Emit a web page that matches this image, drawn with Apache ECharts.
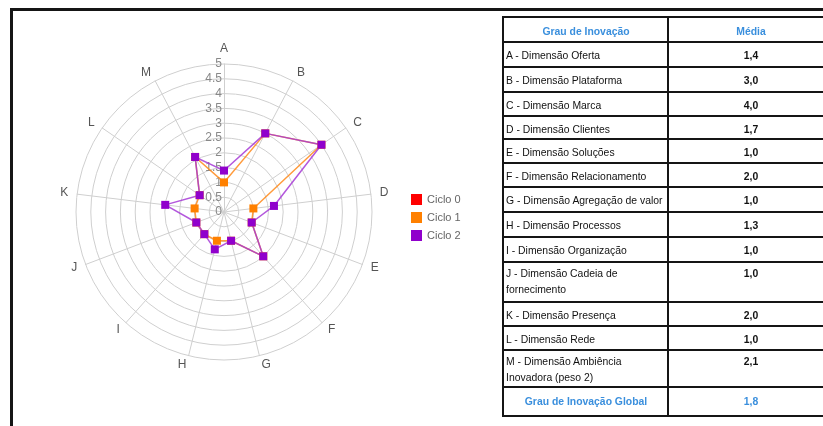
<!DOCTYPE html>
<html>
<head>
<meta charset="utf-8">
<script src="https://cdn.jsdelivr.net/npm/echarts@6/dist/echarts.min.js"></script>
<style>
  html, body { margin: 0; padding: 0; background: #fff; }
  body { width: 823px; height: 426px; overflow: hidden; position: relative; font-family: "Liberation Sans", Arial, sans-serif; }
  #chart { position: absolute; left: 0; top: 0; width: 823px; height: 426px; }
  .frame-top { position: absolute; left: 10px; top: 8px; width: 813px; height: 3px; background: #151515; }
  .frame-left { position: absolute; left: 10px; top: 8px; width: 3px; height: 418px; background: #151515; }
  #tbl { position: absolute; left: 502px; top: 16px; width: 330px; border-collapse: collapse; table-layout: fixed; font-size: 10.4px; }
  #tbl td { border: 2px solid #151515; padding: 4px 1px 0 2px; line-height: 17px; vertical-align: top; box-sizing: border-box; color: #111; white-space: nowrap; }
  #tbl tr.two td { padding-top: 3px; line-height: 16px; }
  #tbl td.v { text-align: center; font-weight: bold; }
  #tbl tr.h td { color: #3a8fdd; font-weight: bold; text-align: center; padding-top: 5px; }
  #tbl tr.g td { color: #3a8fdd; font-weight: bold; text-align: center; padding-top: 5px; }
</style>
</head>
<body>
<div id="chart"></div>
<div class="frame-top"></div>
<div class="frame-left"></div>
<table id="tbl"><colgroup><col style="width:165px"><col style="width:165px"></colgroup><tbody id="tbody"></tbody></table>
<script>
// Radar axes (clockwise from the top) and the values of each cycle
const dimensions = ['A', 'B', 'C', 'D', 'E', 'F', 'G', 'H', 'I', 'J', 'K', 'L', 'M'];
const ciclo0 = [];
const ciclo1 = [1.0, 3.0, 4.0, 1.0, 1.0, 2.0, 1.0, 1.0, 1.0, 1.0, 1.0, 1.0, 2.1];
const ciclo2 = [1.4, 3.0, 4.0, 1.7, 1.0, 2.0, 1.0, 1.3, 1.0, 1.0, 2.0, 1.0, 2.1];
const seriesNames = ['Ciclo 0', 'Ciclo 1', 'Ciclo 2'];
const scaleMax = 5;
const scaleStep = 0.5;

// Summary table
const tableHeader = ['Grau de Inovação', 'Média'];
const tableLabels = [
  ['A - Dimensão Oferta'],
  ['B - Dimensão Plataforma'],
  ['C - Dimensão Marca'],
  ['D - Dimensão Clientes'],
  ['E - Dimensão Soluções'],
  ['F - Dimensão Relacionamento'],
  ['G - Dimensão Agregação de valor'],
  ['H - Dimensão Processos'],
  ['I - Dimensão Organização'],
  ['J - Dimensão Cadeia de', 'fornecimento'],
  ['K - Dimensão Presença'],
  ['L - Dimensão Rede'],
  ['M - Dimensão Ambiência', 'Inovadora (peso 2)']
];
const tableValues = ['1,4', '3,0', '4,0', '1,7', '1,0', '2,0', '1,0', '1,3', '1,0', '1,0', '2,0', '1,0', '2,1'];
const globalLabel = 'Grau de Inovação Global';
const globalValue = '1,8';

// build the table
const tbody = document.getElementById('tbody');
function addRow(cls, lines, b, h) {
  const tr = document.createElement('tr');
  tr.className = cls || (lines.length > 1 ? 'two' : '');
  tr.style.height = h + 'px';
  const c1 = document.createElement('td');
  lines.forEach((ln, i) => {
    if (i) c1.appendChild(document.createElement('br'));
    c1.appendChild(document.createTextNode(ln));
  });
  const c2 = document.createElement('td'); c2.textContent = b; c2.className = 'v';
  tr.appendChild(c1); tr.appendChild(c2);
  tbody.appendChild(tr);
}
addRow('h', [tableHeader[0]], tableHeader[1], 25);
const rowHeights = [25, 25, 24, 23, 24, 24, 25, 25, 25, 40, 24, 24, 37];
tableLabels.forEach((t, i) => addRow('', t, tableValues[i], rowHeights[i]));
addRow('g', [globalLabel], globalValue, 29);

// ECharts radar runs counter-clockwise, so feed the axes in reverse after A
const order = [0].concat(dimensions.map((_, i) => i).slice(1).reverse());
const pick = arr => order.map(i => arr[i]);

const center = [224, 212];
const radius = 148;
const colors = ['#ff0000', '#ff8000', '#9000cc'];
const lineColors = ['#ff0000', '#ff8a1a', '#a63ad6'];

const chart = echarts.init(document.getElementById('chart'), null, { renderer: 'canvas' });
chart.setOption({
  animation: false,
  color: colors,
  legend: {
    orient: 'vertical',
    left: 406,
    top: 189,
    icon: 'rect',
    itemWidth: 11,
    itemHeight: 11,
    itemGap: 7,
    textStyle: { color: '#666', fontSize: 11, fontFamily: 'Liberation Sans' },
    data: seriesNames
  },
  radar: {
    center: center,
    radius: radius,
    shape: 'circle',
    startAngle: 90,
    splitNumber: scaleMax / scaleStep,
    nameGap: 9,
    axisName: { color: '#555', fontSize: 12, fontFamily: 'Liberation Sans' },
    indicator: order.map(i => ({ name: dimensions[i], min: 0, max: scaleMax })),
    splitLine: { lineStyle: { color: '#cfcfcf', width: 1 } },
    axisLine: { lineStyle: { color: '#cfcfcf', width: 1 } },
    splitArea: { show: false },
    axisTick: { show: false },
    axisLabel: { show: false }
  },
  // polar overlay used only to print the scale along axis A
  polar: { center: center, radius: radius },
  angleAxis: { show: false, startAngle: 90, min: 0, max: 360 },
  radiusAxis: {
    min: 0, max: scaleMax, interval: scaleStep,
    axisLine: { show: false }, axisTick: { show: false }, splitLine: { show: false },
    axisLabel: { color: '#888', fontSize: 12, fontFamily: 'Liberation Sans', margin: 2 }
  },
  series: [ciclo0, ciclo1, ciclo2].map((vals, k) => ({
    name: seriesNames[k],
    type: 'radar',
    symbol: 'rect',
    symbolSize: 8,
    itemStyle: { color: colors[k] },
    lineStyle: { color: lineColors[k], width: 1.5, opacity: 0.85 },
    data: vals.length ? [{ value: pick(vals), name: seriesNames[k] }] : []
  }))
});
</script>
</body>
</html>
